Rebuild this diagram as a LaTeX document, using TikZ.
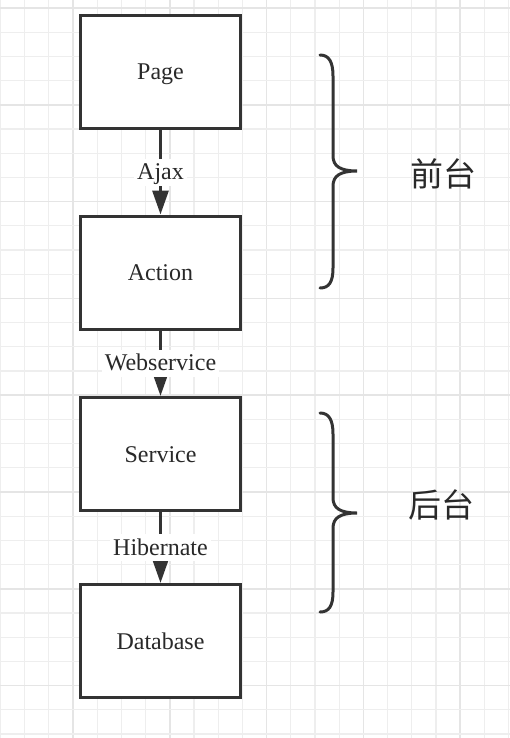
\documentclass[tikz,border=0pt]{standalone}
\usepackage{fontspec}
\setmainfont{Liberation Serif}
\newfontfamily\cjk{Noto Sans CJK SC}
\usetikzlibrary{arrows.meta}
\definecolor{ink}{HTML}{333333}
\definecolor{gridminor}{HTML}{EEEEEE}
\definecolor{gridmajor}{HTML}{E5E5E5}
\begin{document}
\begin{tikzpicture}[x=1pt,y=-1pt,
  layerbox/.style={draw=ink,line width=3pt,fill=white,minimum width=160pt,minimum height=113pt,inner sep=0pt,text height=18pt,text depth=2pt,font=\fontsize{24}{28}\selectfont,text=ink!80!black},
  lbl/.style={fill=white,inner sep=3pt,text height=18pt,text depth=3pt,font=\fontsize{24}{28}\selectfont,text=ink!80!black},
  flow/.style={draw=ink,line width=3pt,-{Triangle[width=16pt,length=24pt]}},
  bracestyle/.style={draw=ink,line width=3pt,line cap=round},
  cjklbl/.style={font=\cjk\fontsize{33}{36}\selectfont,text=ink!80!black}
]
\useasboundingbox (0,0) rectangle (510,738);
\fill[white] (0,0) rectangle (510,738);
% grid
\foreach \i in {0,...,21}{
  \pgfmathsetmacro{\xx}{0.4+24.2*\i}
  \pgfmathtruncatemacro{\m}{mod(\i,4)}
  \ifnum\m=3
    \draw[gridmajor,line width=1.5pt] (\xx,0) -- (\xx,738);
  \else
    \draw[gridminor,line width=1.2pt] (\xx,0) -- (\xx,738);
  \fi
}
\foreach \j in {0,...,30}{
  \pgfmathsetmacro{\yy}{8+24.2*\j}
  \pgfmathtruncatemacro{\m}{mod(\j,4)}
  \ifnum\m=0
    \draw[gridmajor,line width=1.5pt] (0,\yy) -- (510,\yy);
  \else
    \draw[gridminor,line width=1.2pt] (0,\yy) -- (510,\yy);
  \fi
}
% boxes
\node[layerbox] (page) at (160.5,72) {Page};
\node[layerbox] (action) at (160.5,272.5) {Action};
\node[layerbox] (service) at (160.5,454) {Service};
\node[layerbox] (database) at (160.5,641) {Database};
% arrows
\draw[flow] (page.south) -- (action.north) node[lbl,midway] (ajax) {Ajax};
\draw[flow] (action.south) -- (service.north) node[lbl,midway] (ws) {Webservice};
\draw[flow] (service.south) -- (database.north) node[lbl,midway] (hib) {Hibernate};
% braces
\draw[bracestyle] (320,55) .. controls (329,55) and (333,62) .. (333,76) -- (333,156)
  .. controls (333,166) and (340,171) .. (357,171)
  .. controls (340,171) and (333,176) .. (333,186) -- (333,268)
  .. controls (333,282) and (329,288) .. (320,288);
\draw[bracestyle] (320,413) .. controls (329,413) and (333,420) .. (333,434) -- (333,498)
  .. controls (333,508) and (340,513) .. (357,513)
  .. controls (340,513) and (333,518) .. (333,528) -- (333,592)
  .. controls (333,606) and (329,612) .. (320,612);
\node[cjklbl] (front) at (443,174) {前台};
\node[cjklbl] (back) at (441,505) {后台};
\end{tikzpicture}
\end{document}
